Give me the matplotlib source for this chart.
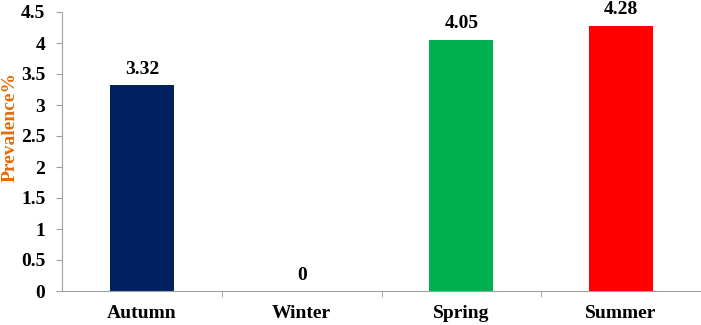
import matplotlib.pyplot as plt
import numpy as np

# Seasonal prevalence
seasons = ['Autumn', 'Winter', 'Spring', 'Summer']
prevalence = [3.32, 0, 4.05, 4.28]
value_labels = ['3.32', '0', '4.05', '4.28']
colors = ['#002060', '#FFFFFF', '#00B050', '#FF0000']

plt.rcParams['font.family'] = ['Liberation Serif', 'DejaVu Serif']
plt.rcParams['font.weight'] = 'bold'

fig = plt.figure(figsize=(7.01, 3.25), dpi=100)
ax = fig.add_axes([62 / 701, 34 / 325, 639 / 701, 279 / 325])

x = np.arange(len(seasons))
bars = ax.bar(x, prevalence, width=0.4, color=colors)

for xi, v, lab in zip(x, prevalence, value_labels):
    ax.text(xi, v + 0.12, lab, ha='center', va='bottom', fontsize=14, fontweight='bold')

ax.set_xlim(-0.5, len(seasons) - 0.5)
ax.set_ylim(0, 4.5)
ax.set_yticks(np.arange(0, 4.51, 0.5))
ax.set_yticklabels(['0', '0.5', '1', '1.5', '2', '2.5', '3', '3.5', '4', '4.5'])
ax.set_xticks(x)
ax.set_xticklabels(seasons)
ax.set_xticks(np.arange(0.5, len(seasons) - 0.5, 1), minor=True)
ax.tick_params(axis='x', which='major', length=0, pad=10, labelsize=14)
ax.tick_params(axis='x', which='minor', length=4, color='#A0A0A0', direction='out')
ax.tick_params(axis='y', length=4, color='#A0A0A0', labelsize=14, pad=8)

for s in ['top', 'right']:
    ax.spines[s].set_visible(False)
for s in ['left', 'bottom']:
    ax.spines[s].set_color('#A0A0A0')

# y-axis title, placed like the original (above the axis centre)
fig.text(10 / 701, (325 - 127) / 325, 'Prevalence%', rotation=90, ha='center', va='center',
         color='#E46C0A', fontsize=14, fontweight='bold')

fig.savefig('out.png', dpi=100)
